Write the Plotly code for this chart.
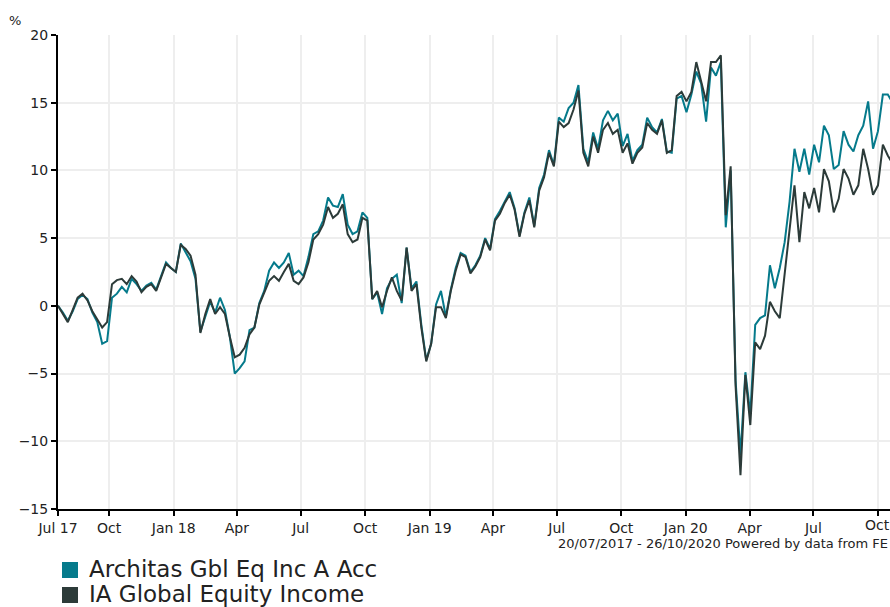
import pandas as pd
import plotly.graph_objects as go

# ---- data (weekly readings, % cumulative performance) ----
start_date = "2017-07-20"
n_points = 171
dates = pd.date_range(start_date, periods=n_points, freq="7D")

series_names = ["Architas Gbl Eq Inc A Acc", "IA Global Equity Income"]

architas = [
    0, -0.5, -1.1, -0.4, 0.5, 0.8, 0.5, -0.5, -1.2, -2.8,
    -2.6, 0.6, 0.9, 1.4, 1.0, 2.0, 1.6, 1.1, 1.5, 1.7,
    1.2, 2.2, 3.2, 2.8, 2.5, 4.6, 4.0, 3.3, 2.0, -1.9,
    -0.8, 0.3, -0.5, 0.6, -0.3, -2.3, -5.0, -4.6, -4.1, -1.8,
    -1.6, 0.2, 1.1, 2.6, 3.2, 2.8, 3.2, 3.9, 2.3, 2.6,
    2.2, 3.6, 5.3, 5.5, 6.3, 8.0, 7.4, 7.3, 8.25, 6.0,
    5.3, 5.5, 6.9, 6.5, 0.5, 1.0, -0.6, 1.3, 2.0, 2.3,
    0.2, 4.3, 1.3, 1.8, -1.4, -4.0, -2.8, 0.1, 1.1, -0.8,
    1.2, 2.8, 3.9, 3.7, 2.5, 3.0, 3.7, 5.0, 4.2, 6.4,
    7.0, 7.7, 8.4, 7.2, 5.2, 6.9, 8.0, 5.9, 8.7, 9.7,
    11.5, 10.4, 13.9, 13.6, 14.6, 15.0, 16.3, 11.6, 10.6, 12.8,
    11.6, 13.7, 14.4, 13.7, 14.2, 11.8, 12.7, 10.7, 11.5, 11.9,
    13.9, 13.2, 12.8, 13.8, 11.4, 11.3, 15.3, 15.5, 14.3, 15.6,
    17.3, 16.4, 13.6, 17.6, 17.0, 18.0, 5.8, 10.0, -5.5, -11.0,
    -4.9, -8.0, -1.4, -0.9, -0.7, 3.0, 1.3, 2.8, 4.7, 7.7,
    11.6, 9.9, 11.6, 9.7, 11.9, 10.6, 13.3, 12.6, 10.1, 10.4,
    12.9, 11.9, 11.4, 12.6, 13.3, 15.1, 11.6, 12.9, 15.6, 15.6,
    15.0,
]

ia_global = [
    0, -0.6, -1.2, -0.3, 0.6, 0.9, 0.4, -0.4, -1.0, -1.6,
    -1.2, 1.6, 1.9, 2.0, 1.6, 2.2, 1.8, 1.0, 1.4, 1.6,
    1.1, 2.1, 3.1, 2.8, 2.5, 4.5, 4.2, 3.7, 2.3, -2.0,
    -0.6, 0.5, -0.6, -0.1, -0.6, -2.3, -3.8, -3.6, -3.1, -2.1,
    -1.6, 0.1, 1.0, 1.85, 2.2, 1.85, 2.5, 3.1, 1.85, 1.6,
    2.1, 3.2, 4.9, 5.3, 6.0, 7.3, 6.5, 6.8, 7.5, 5.3,
    4.7, 4.9, 6.5, 6.3, 0.5, 1.1, -0.1, 1.1, 2.1, 1.1,
    0.4, 4.3, 1.1, 1.6, -1.6, -4.1, -2.8, -0.1, -0.1, -0.9,
    1.1, 2.6, 3.8, 3.6, 2.4, 2.9, 3.6, 4.9, 4.1, 6.3,
    6.8, 7.6, 8.2, 7.1, 5.1, 6.8, 7.8, 5.8, 8.5, 9.5,
    11.3, 10.3, 13.6, 13.2, 13.5, 14.5, 15.9, 11.3, 10.3, 12.5,
    11.3, 13.0, 13.5, 12.7, 13.0, 11.3, 12.0, 10.5, 11.3, 11.7,
    13.5, 13.0, 12.7, 13.7, 11.3, 11.5, 15.5, 15.8, 15.1, 15.8,
    18.0, 16.6, 15.1, 18.0, 18.0, 18.5, 6.7, 10.3, -5.9, -12.5,
    -5.1, -8.8, -2.7, -3.2, -2.2, 0.3, -0.4, -0.9, 2.3, 5.5,
    8.9, 4.7, 8.4, 7.2, 8.7, 6.9, 10.1, 9.2, 6.9, 7.9,
    10.1, 9.4, 8.2, 8.9, 11.6, 10.1, 8.2, 8.9, 11.9, 11.1,
    10.5,
]

tick_dates = ["2017-07-20", "2017-10-01", "2018-01-01", "2018-04-01", "2018-07-01",
              "2018-10-01", "2019-01-01", "2019-04-01", "2019-07-01", "2019-10-01",
              "2020-01-01", "2020-04-01", "2020-07-01", "2020-10-01"]
tick_labels = ["Jul 17", "Oct", "Jan 18", "Apr", "Jul", "Oct", "Jan 19", "Apr",
               "Jul", "Oct", "Jan 20", "Apr", "Jul", "Oct"]

y_ticks = [-15, -10, -5, 0, 5, 10, 15, 20]
source_text = "20/07/2017 - 26/10/2020 Powered by data from FE"

colors = ["#057a8b", "#2c3b39"]

# ---- figure ----
W, H = 890, 607
L, T, B = 58, 35, 509


def px_x(x):
    return (x - L) / (W - L)


def px_y(y):
    return (B - y) / (B - T)


fig = go.Figure()
for name, vals, col in [(series_names[0], architas, colors[0]),
                        (series_names[1], ia_global, colors[1])]:
    fig.add_trace(go.Scatter(x=dates, y=vals, mode="lines", name=name,
                             line=dict(color=col, width=2), showlegend=False,
                             hoverinfo="skip"))

font_family = "DejaVu Sans, Verdana, sans-serif"
tick_font = dict(size=14, color="#222222", family=font_family)

fig.update_layout(
    width=W, height=H,
    margin=dict(l=L, r=0, t=T, b=H - B, autoexpand=False),
    paper_bgcolor="white", plot_bgcolor="white",
    font=dict(family=font_family, size=14, color="#222222"),
    showlegend=False,
)

# the last tick label sits at the right edge, so it is drawn as an annotation
shown_labels = tick_labels[:-1] + [""]

fig.update_xaxes(
    range=["2017-07-20", "2020-10-18 04:00"],
    tickvals=tick_dates, ticktext=shown_labels,
    showgrid=True, gridcolor="#eeeeee", gridwidth=2,
    showline=True, linecolor="black", linewidth=2,
    ticks="outside", ticklen=5, tickwidth=2, tickcolor="black",
    tickfont=tick_font,
    zeroline=False, fixedrange=True,
)
fig.update_yaxes(
    range=[-15, 20], tickvals=y_ticks,
    showgrid=True, gridcolor="#eeeeee", gridwidth=2,
    showline=True, linecolor="black", linewidth=2,
    ticks="outside", ticklen=5, tickwidth=2, tickcolor="black",
    tickfont=tick_font,
    zeroline=False, fixedrange=True,
)

annotations = [
    dict(text=tick_labels[-1], x=tick_dates[-1], xref="x", y=px_y(525), yref="paper",
         showarrow=False, xanchor="center", yanchor="middle", font=tick_font),
    dict(text="%", x=px_x(15), y=px_y(20), xref="paper", yref="paper",
         showarrow=False, xanchor="center", yanchor="middle",
         font=dict(size=13, color="#222222")),
    dict(text=source_text, x=1.0, y=px_y(543), xref="paper", yref="paper",
         showarrow=False, xanchor="right", yanchor="middle",
         font=dict(size=13, color="#222222")),
]
shapes = []
legend_rows = [569, 594]
for name, col, yc in zip(series_names, colors, legend_rows):
    shapes.append(dict(type="rect", xref="paper", yref="paper",
                       x0=px_x(62), x1=px_x(78), y0=px_y(yc + 9), y1=px_y(yc - 7),
                       fillcolor=col, line=dict(width=0)))
    annotations.append(dict(text=name, x=px_x(87), y=px_y(yc), xref="paper", yref="paper",
                            showarrow=False, xanchor="left", yanchor="middle",
                            font=dict(size=23, color="#222222")))

fig.update_layout(annotations=annotations, shapes=shapes)

fig.write_html("out.html", config={"displayModeBar": False},
               post_script="document.body.style.margin='0';document.body.style.overflow='hidden';")
